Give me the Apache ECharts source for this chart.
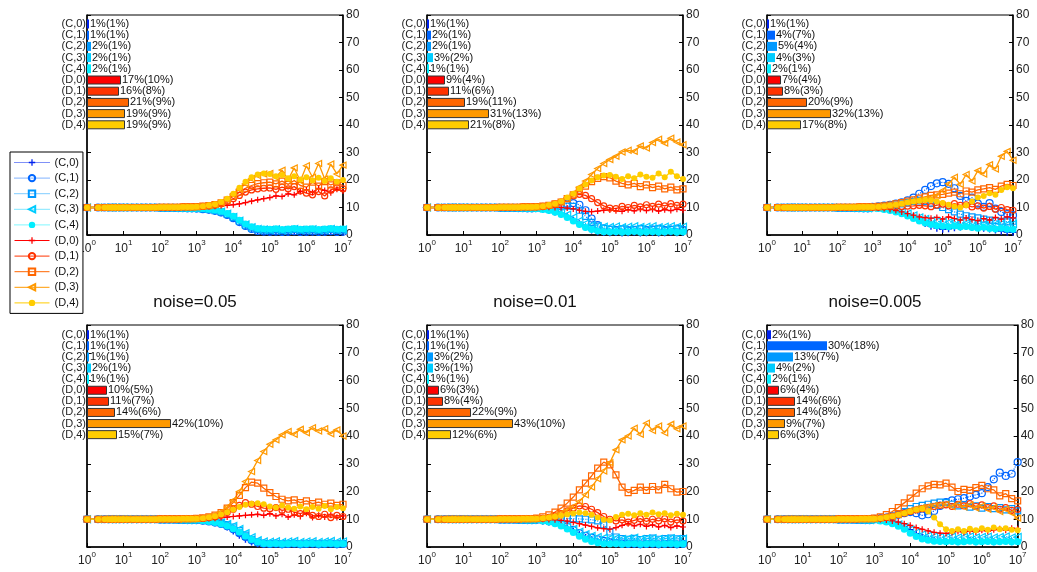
<!DOCTYPE html>
<html><head><meta charset="utf-8">
<script src="https://cdn.jsdelivr.net/npm/echarts@6/dist/echarts.min.js"></script>
<style>html,body{margin:0;padding:0;background:#fff}#c{width:1037px;height:572px}</style>
</head><body><div id="c"></div>
<script>
// ---------- DATA ----------
const NAMES = ['(C,0)','(C,1)','(C,2)','(C,3)','(C,4)','(D,0)','(D,1)','(D,2)','(D,3)','(D,4)'];
const TITLES = ['noise=0.05','noise=0.01','noise=0.005'];
const XS = [1,2,3,4,5,6,8,10,13,18,24,32,42,56,75,100,133,178,237,316,422,562,750,
  1000,1468,2154,3162,4642,6813,10000,14678,21544,31623,46416,68129,100000,146780,215440,316230,464160,681290,
  1000000,1467800,2154400,3162300,4641600,6812900,10000000];
const EARLY_C = [10,10,10,10,10,10,10,10,10,10,10,10,10,10,10,9.9,9.9,9.9,9.9,9.8,9.8,9.7,9.7];
const EARLY_D = [10,10,10,10,10,10,10,10,10,10,10,10,10,10,10,10.1,10.1,10.1,10.1,10.1,10.2,10.2,10.2];

// values from x=1000 to x=1e7 (25 points)
const P1_LINES = [
 [9.6,9.4,9.1,8.7,8.1,7.2,6.0,4.6,3.2,2.1,1.4,1.1,1.0,1.1,0.9,1.0,1.2,0.9,1.0,1.1,0.9,1.0,1.2,0.9,1.0],
 [9.6,9.4,9.2,8.8,8.2,7.3,6.1,4.7,3.3,2.2,1.5,1.3,1.2,1.3,1.1,1.2,1.4,1.1,1.2,1.3,1.1,1.2,1.4,1.1,1.2],
 [9.7,9.5,9.3,8.9,8.4,7.5,6.4,5.0,3.6,2.6,2.0,1.8,1.7,1.9,1.6,1.8,2.0,1.7,1.8,1.9,1.6,1.8,2.0,1.7,1.8],
 [9.7,9.5,9.3,9.0,8.5,7.7,6.6,5.2,3.8,2.8,2.2,2.0,1.9,2.1,1.8,2.0,2.2,1.9,2.0,2.1,1.8,2.0,2.2,1.9,2.0],
 [9.7,9.6,9.4,9.1,8.6,7.8,6.8,5.4,4.0,3.0,2.4,2.2,2.1,2.3,2.0,2.2,2.4,2.1,2.2,2.3,2.0,2.2,2.4,2.1,2.2],
 [10.2,10.3,10.4,10.5,10.6,10.8,11.0,11.3,11.8,12.3,12.8,13.2,13.6,14.2,14.0,15.0,14.6,15.8,16.4,15.5,17.0,16.2,15.4,16.6,16.0],
 [10.3,10.4,10.6,10.9,11.4,12.2,13.2,14.4,15.6,16.4,16.8,17.0,17.1,16.6,17.4,16.8,17.6,16.0,15.2,14.6,15.8,14.2,16.4,17.2,16.8],
 [10.3,10.5,10.7,11.1,11.7,12.7,14.0,15.6,17.0,18.0,18.7,19.0,19.2,18.6,19.6,18.4,19.8,18.0,17.4,19.2,17.8,19.4,18.2,19.0,18.0],
 [10.3,10.5,10.8,11.2,11.9,13.0,14.6,16.6,18.6,20.4,21.6,22.2,22.4,21.0,23.6,20.2,24.4,19.6,25.2,21.0,26.0,20.4,25.8,22.2,25.4],
 [10.3,10.5,10.8,11.2,12.0,13.2,15.0,17.2,19.4,21.0,22.0,22.4,22.2,21.4,21.8,20.6,21.4,20.2,21.0,19.8,20.8,19.6,20.6,19.4,20.0]
];
const P2_LINES = [
 [9.6,9.3,8.9,8.4,7.6,6.6,5.4,4.0,2.7,1.8,1.2,0.9,0.8,0.9,0.7,0.8,1.0,0.7,0.8,0.9,0.7,0.8,1.0,0.8,0.9],
 [10.0,10.1,10.3,10.6,11.0,11.4,11.6,11.0,9.0,6.0,3.6,2.4,2.0,1.8,2.1,1.7,1.9,2.2,1.8,2.0,2.2,1.8,2.0,2.3,1.9],
 [9.9,9.9,10.0,10.1,10.3,10.5,10.4,9.0,6.8,4.6,3.2,2.4,2.1,1.9,2.2,1.8,2.0,2.3,1.9,2.1,2.2,1.8,2.0,2.2,1.9],
 [9.7,9.5,9.2,8.8,8.2,7.4,6.4,5.2,4.2,3.6,3.2,3.0,2.9,3.1,2.8,3.0,3.2,2.9,3.0,3.2,2.8,3.0,3.2,2.9,3.0],
 [9.6,9.3,8.9,8.3,7.5,6.4,5.1,3.8,2.7,2.0,1.5,1.2,1.1,1.2,1.0,1.1,1.3,1.0,1.1,1.2,1.0,1.1,1.3,1.0,1.1],
 [10.1,10.1,10.1,10.0,10.0,9.8,9.5,9.0,8.6,8.5,8.7,9.0,9.1,8.8,8.6,9.2,8.8,9.4,8.9,9.3,8.7,9.2,8.9,9.4,9.0],
 [10.2,10.4,10.7,11.2,12.0,13.2,14.2,14.8,14.4,13.2,11.8,10.6,9.8,9.6,10.4,10.0,10.8,10.2,11.0,10.4,11.2,10.6,11.4,10.8,11.2],
 [10.3,10.5,10.8,11.3,12.0,13.2,14.6,16.2,17.8,19.4,20.6,21.2,20.8,19.6,18.8,18.2,18.8,17.6,18.2,17.2,17.8,16.8,17.4,16.4,16.8],
 [10.3,10.5,10.9,11.4,12.2,13.6,15.2,17.4,19.6,22.0,24.2,26.0,27.4,28.6,30.2,30.8,30.4,32.4,31.6,33.6,34.8,33.4,35.2,33.8,32.8],
 [10.3,10.5,10.9,11.4,12.2,13.6,15.0,16.8,18.4,19.8,21.0,21.6,21.8,21.2,20.4,21.4,20.6,22.0,21.2,20.8,22.4,21.0,23.0,21.4,20.4]
];
const P3_LINES = [
 [9.8,9.6,9.4,9.1,8.7,8.1,7.4,6.4,5.3,4.2,3.2,2.5,2.1,2.3,2.6,2.9,3.1,2.7,3.0,2.5,2.2,1.8,1.4,1.1,1.0],
 [10.2,10.4,10.7,11.0,11.4,11.9,12.6,13.6,15.0,16.4,17.8,18.8,19.2,18.6,17.0,14.2,12.4,13.6,11.4,10.2,11.6,9.6,8.4,7.6,7.2],
 [10.1,10.2,10.4,10.6,10.9,11.3,11.8,12.2,12.4,12.2,11.6,10.8,10.0,9.2,8.4,7.6,7.0,6.6,6.2,5.8,5.4,5.2,5.0,4.8,5.0],
 [9.9,9.8,9.6,9.3,8.9,8.4,7.8,7.1,6.4,5.8,5.3,5.0,4.8,4.6,4.9,4.5,4.3,4.6,4.2,4.0,4.3,3.9,4.1,3.8,4.0],
 [9.8,9.6,9.3,8.9,8.4,7.7,6.9,6.0,5.1,4.4,3.8,3.4,3.2,3.0,3.3,2.9,3.1,2.7,2.5,2.8,2.4,2.2,2.5,2.1,2.0],
 [9.9,9.8,9.6,9.3,8.9,8.4,7.8,7.2,6.6,6.3,6.1,6.4,5.8,6.6,6.0,5.4,6.2,5.6,5.2,6.0,5.4,6.4,5.8,6.6,6.2],
 [10.1,10.1,10.2,10.2,10.3,10.4,10.5,10.6,10.8,10.6,10.3,10.9,11.2,10.6,11.4,10.8,11.0,10.2,10.6,9.8,10.4,9.4,10.0,9.2,9.0],
 [10.2,10.4,10.6,10.9,11.3,11.8,12.3,12.8,13.4,13.9,14.4,14.6,14.8,15.2,15.6,15.0,16.0,15.6,16.4,16.8,17.2,16.6,17.8,18.4,18.0],
 [10.2,10.3,10.5,10.8,11.1,11.5,12.0,12.4,12.8,13.2,13.6,14.4,16.2,18.6,21.0,18.4,22.0,19.6,23.4,22.2,25.6,24.0,28.6,30.4,27.2],
 [10.2,10.3,10.5,10.7,11.0,11.4,11.8,12.2,12.5,12.7,12.6,12.2,11.6,11.0,10.4,10.0,10.8,12.2,13.6,14.2,15.2,14.6,16.4,17.4,17.0]
];
const P4_LINES = [
 [9.7,9.5,9.2,8.8,8.2,7.2,5.8,4.2,2.8,1.8,1.2,1.0,0.9,1.0,0.8,0.9,1.1,0.8,0.9,1.0,0.8,0.9,1.0,0.8,0.9],
 [9.7,9.5,9.2,8.8,8.3,7.5,6.4,5.0,3.6,2.4,1.6,1.2,1.1,1.2,1.0,1.1,1.2,1.0,1.1,1.2,1.0,1.1,1.2,1.0,1.1],
 [9.8,9.6,9.4,9.1,8.7,8.1,7.2,5.9,4.3,2.8,1.8,1.3,1.2,1.3,1.1,1.2,1.3,1.1,1.2,1.3,1.1,1.2,1.3,1.1,1.2],
 [9.8,9.7,9.5,9.2,8.8,8.3,7.6,6.5,5.0,3.5,2.4,2.0,1.9,2.1,1.8,2.0,2.2,1.8,2.0,2.1,1.8,2.0,2.2,1.9,2.0],
 [9.7,9.5,9.2,8.8,8.3,7.6,6.6,5.3,3.9,2.7,1.8,1.3,1.2,1.3,1.1,1.2,1.3,1.1,1.2,1.3,1.1,1.2,1.3,1.1,1.2],
 [10.1,10.2,10.3,10.4,10.6,10.8,11.0,11.2,11.4,11.6,11.8,11.4,12.0,11.2,11.8,10.8,11.6,11.0,12.2,10.6,11.4,10.8,11.8,10.6,11.2],
 [10.2,10.3,10.6,10.9,11.5,12.4,13.6,15.0,16.0,15.4,14.6,14.0,13.8,14.2,13.2,13.6,12.6,12.0,12.8,11.4,11.0,11.8,10.6,11.4,11.0],
 [10.3,10.5,10.9,11.5,12.4,14.0,16.0,18.6,21.4,23.4,23.0,21.2,19.6,18.2,17.2,16.6,17.0,16.0,16.6,15.6,16.2,15.4,15.8,15.0,15.4],
 [10.3,10.5,10.9,11.6,12.6,14.4,16.8,20.0,23.6,27.2,31.2,34.4,37.0,38.6,40.4,41.6,40.6,42.4,41.2,43.0,41.8,42.6,40.8,42.2,40.0],
 [10.2,10.4,10.7,11.1,11.7,12.5,13.5,14.4,15.2,15.6,15.8,15.4,14.6,14.2,15.0,14.2,13.8,14.6,13.6,14.4,13.8,14.8,13.6,14.4,14.0]
];
const P5_LINES = [
 [9.7,9.4,9.0,8.5,7.8,6.8,5.6,4.4,3.4,2.6,2.0,1.6,1.3,1.1,1.0,0.9,1.0,0.8,0.9,1.0,0.8,0.9,1.0,0.8,0.9],
 [9.8,9.6,9.3,8.9,8.3,7.4,6.2,5.0,4.0,3.4,2.8,2.2,1.7,1.4,1.2,1.1,1.2,1.0,1.1,1.2,1.0,1.1,1.2,1.0,1.1],
 [10.0,10.0,10.1,10.1,10.2,10.2,10.2,10.1,10.0,9.8,9.4,8.0,5.4,3.6,3.0,2.8,3.1,2.7,3.0,3.2,2.8,3.0,3.2,2.9,3.0],
 [9.8,9.6,9.3,8.9,8.3,7.5,6.5,5.5,4.6,4.0,3.6,3.3,3.1,3.2,2.9,3.1,3.3,2.9,3.1,3.2,2.9,3.0,3.2,2.9,3.0],
 [9.7,9.4,9.0,8.4,7.6,6.5,5.2,3.9,2.8,2.0,1.5,1.2,1.1,1.2,1.0,1.1,1.2,1.0,1.1,1.2,1.0,1.1,1.2,1.0,1.1],
 [10.0,10.0,9.9,9.8,9.6,9.3,8.9,8.4,7.9,7.4,6.9,6.6,6.4,7.0,7.8,8.4,7.6,8.2,7.4,8.0,7.2,7.8,7.0,7.6,7.2],
 [10.2,10.4,10.7,11.2,12.0,13.0,14.0,14.8,14.6,13.6,12.4,11.0,10.0,9.4,9.8,9.0,9.6,10.2,9.2,10.0,9.4,10.2,9.0,9.8,9.4],
 [10.4,10.9,11.6,12.6,14.0,15.8,18.0,20.6,23.0,25.6,28.4,30.6,29.6,26.0,21.6,19.6,20.4,21.6,20.4,21.8,20.6,22.6,21.0,19.8,20.0],
 [10.3,10.5,10.9,11.4,12.2,13.3,14.6,16.4,18.8,21.6,24.6,27.4,30.4,35.0,38.6,40.0,42.8,40.6,44.6,42.0,43.6,41.2,44.2,42.6,43.6],
 [10.2,10.4,10.6,10.9,11.3,11.7,12.1,12.4,12.2,11.6,10.6,9.8,9.6,10.8,11.6,12.0,11.4,12.2,11.6,12.4,11.8,12.2,11.4,12.0,11.6]
];
const P6_LINES = [
 [9.8,9.6,9.3,8.9,8.3,7.4,6.2,4.8,3.6,2.8,2.4,2.2,2.0,2.2,1.9,2.1,2.3,1.9,2.1,2.2,1.9,2.0,2.2,1.9,2.0],
 [10.1,10.3,10.6,11.0,11.6,12.2,12.6,12.2,11.4,11.8,13.0,14.8,16.2,16.8,17.2,17.6,18.2,18.8,19.4,21.6,24.4,26.8,25.6,26.4,30.6],
 [10.1,10.3,10.6,11.1,11.8,12.8,13.8,14.6,15.0,15.4,15.8,16.2,16.0,15.4,14.8,15.2,14.4,14.8,14.0,14.6,13.8,14.2,13.4,13.8,13.0],
 [9.8,9.6,9.3,8.8,8.1,7.2,6.2,5.2,4.5,4.1,3.8,3.6,3.5,3.7,3.4,3.6,3.8,3.4,3.6,3.7,3.4,3.6,3.8,3.4,3.6],
 [9.7,9.4,9.0,8.4,7.5,6.4,5.0,3.8,2.9,2.4,2.1,2.0,1.9,2.0,1.8,1.9,2.1,1.8,1.9,2.0,1.8,1.9,2.0,1.8,1.9],
 [10.0,9.9,9.7,9.4,9.0,8.4,7.8,7.0,6.4,5.8,5.3,5.0,4.9,5.2,5.6,5.2,5.8,5.4,6.0,5.6,6.2,6.6,6.0,6.8,6.6],
 [10.2,10.4,10.7,11.1,11.6,12.2,12.8,13.4,13.8,14.2,14.6,15.0,15.2,14.6,15.4,14.8,15.6,14.6,15.2,14.2,14.8,13.6,14.2,13.2,13.6],
 [10.4,10.9,11.7,12.8,14.2,15.9,17.6,19.4,21.0,22.0,22.6,22.4,23.0,21.6,20.0,20.8,20.4,21.4,22.2,21.0,20.6,18.4,19.2,17.4,16.6],
 [10.2,10.4,10.7,11.1,11.7,12.4,13.2,13.8,14.2,14.6,15.0,15.2,15.4,14.6,15.6,14.4,15.2,14.0,14.8,13.6,14.2,12.8,13.6,12.2,10.4],
 [10.2,10.4,10.7,11.1,11.6,12.2,12.8,13.4,13.8,12.8,10.6,8.2,6.4,5.8,6.4,5.8,6.6,6.0,6.8,6.2,7.0,6.4,6.8,6.2,6.0]
];

const P1_PCT = [1,1,2,2,2,17,16,21,19,19]; const P1_SD = [1,1,1,1,1,10,8,9,9,9];
const P2_PCT = [1,2,2,3,1,9,11,19,31,21];  const P2_SD = [1,1,1,2,1,4,6,11,13,8];
const P3_PCT = [1,4,5,4,2,7,8,20,32,17];   const P3_SD = [1,7,4,3,1,4,3,9,13,8];
const P4_PCT = [1,1,1,2,1,10,11,14,42,15]; const P4_SD = [1,1,1,1,1,5,7,6,10,7];
const P5_PCT = [1,1,3,3,1,6,8,22,43,12];   const P5_SD = [1,1,2,1,1,3,4,9,10,6];
const P6_PCT = [2,30,13,4,2,6,14,14,9,6];  const P6_SD = [1,18,7,2,1,4,6,8,7,3];

// ---------- STYLE / LAYOUT ----------
const FONT = 'Liberation Sans, Arial, Helvetica, sans-serif';
const COLORS = ['#0022ee','#0066ff','#0099ff','#00ccff','#00eeff','#ff0000','#ff3300','#ff6600','#ff9900','#ffcc00'];
const PLUS = 'path://M4,0H6V4H10V6H6V10H4V6H0V4H4Z';
const SYMS = [PLUS,'circle','rect','triangle','circle',PLUS,'circle','rect','triangle','circle'];
const HOLLOW = [false,true,true,true,false,false,true,true,true,false];
const ROT = [0,0,0,90,0,0,0,0,90,0];
const SIZE = [7,7,6,7,7,6,6,6,6,6];
const PANELS = [
  {lines:P1_LINES,pct:P1_PCT,sd:P1_SD,g:{left:87,top:15,width:256,height:220},bt:18.4,bh:112},
  {lines:P2_LINES,pct:P2_PCT,sd:P2_SD,g:{left:427,top:15,width:256,height:220},bt:18.4,bh:112},
  {lines:P3_LINES,pct:P3_PCT,sd:P3_SD,g:{left:767,top:15,width:246,height:220},bt:18.4,bh:112},
  {lines:P4_LINES,pct:P4_PCT,sd:P4_SD,g:{left:87,top:325,width:256,height:222},bt:329.2,bh:111},
  {lines:P5_LINES,pct:P5_PCT,sd:P5_SD,g:{left:427,top:325,width:256,height:222},bt:329.2,bh:111},
  {lines:P6_LINES,pct:P6_PCT,sd:P6_SD,g:{left:767,top:325,width:256,height:222},bt:329.2,bh:111}
];
const TITLE_POS = [[195,302],[535,302],[875,302]];

const grid=[], xAxis=[], yAxis=[], series=[];
PANELS.forEach((p,i)=>{
  grid.push(Object.assign({show:true,borderColor:'#000',borderWidth:1,containLabel:false},p.g));
  grid.push({left:p.g.left,top:p.bt,width:200,height:p.bh,show:false});
  xAxis.push({type:'log',logBase:10,min:1,max:1e7,gridIndex:2*i,splitNumber:7,
    axisLine:{show:true,lineStyle:{color:'#000',width:1.5}},
    axisTick:{inside:true,length:4,lineStyle:{color:'#000'}},
    splitLine:{show:false},
    axisLabel:{margin:4,color:'#222',fontFamily:FONT,
      formatter:v=>'{b|10}{s|'+Math.round(Math.log10(v))+'}',
      rich:{b:{fontSize:12,fontFamily:FONT,color:'#222',verticalAlign:'bottom',lineHeight:16},
            s:{fontSize:8,fontFamily:FONT,color:'#222',verticalAlign:'top',lineHeight:16}}}});
  xAxis.push({type:'value',min:0,max:100,gridIndex:2*i+1,show:false});
  yAxis.push({type:'value',min:0,max:80,interval:10,gridIndex:2*i,position:'right',
    axisLine:{show:true,lineStyle:{color:'#000',width:1.5}},
    axisTick:{show:true,inside:true,length:4,lineStyle:{color:'#000'}},
    splitLine:{show:false},
    axisLabel:{margin:3,fontSize:12,color:'#222',fontFamily:FONT}});
  yAxis.push({type:'value',min:0,max:80,interval:10,gridIndex:2*i,position:'left',
    axisLine:{show:true,lineStyle:{color:'#000',width:1.5}},
    axisTick:{show:true,inside:true,length:4,lineStyle:{color:'#000'}},
    splitLine:{show:false},axisLabel:{show:false}});
  yAxis.push({type:'category',data:NAMES,inverse:true,gridIndex:2*i+1,
    axisLine:{show:false},axisTick:{show:false},
    axisLabel:{interval:0,margin:1,fontSize:11,color:'#222',fontFamily:FONT}});
  p.lines.forEach((vals,k)=>{
    const full = (k<5?EARLY_C:EARLY_D).concat(vals);
    series.push({type:'line',name:NAMES[k],xAxisIndex:2*i,yAxisIndex:3*i,
      data:XS.map((x,j)=>[x,full[j]]),
      symbol:SYMS[k],symbolRotate:ROT[k],symbolSize:SIZE[k],showSymbol:true,
      lineStyle:{color:COLORS[k],width:k<5?1.2:1.3,type:k<5?'dotted':'solid'},
      itemStyle:HOLLOW[k]?{color:'rgba(255,255,255,0)',borderColor:COLORS[k],borderWidth:1.2}
                         :{color:COLORS[k],borderWidth:0},
      emphasis:{disabled:true},silent:true,z:2});
  });
  series.push({type:'bar',name:'bars'+i,xAxisIndex:2*i+1,yAxisIndex:3*i+2,barWidth:9,z:5,
    data:p.pct.map((v,k)=>({value:v,itemStyle:{color:COLORS[k],borderColor:k<5?COLORS[k]:'#333',borderWidth:k<5?0:1}})),
    label:{show:true,position:'right',distance:1,fontSize:11,color:'#111',fontFamily:FONT,
      formatter:q=>q.value+'%('+p.sd[q.dataIndex]+'%)'},
    silent:true});
});

const graphic = TITLES.map((t,i)=>({type:'text',x:TITLE_POS[i][0],y:TITLE_POS[i][1],
  style:{text:t,fill:'#111',font:'17px '+FONT,align:'center',verticalAlign:'middle',textAlign:'center',textVerticalAlign:'middle'}}));

const chart = echarts.init(document.getElementById('c'),null,{renderer:'canvas'});
chart.setOption({
  animation:false,
  textStyle:{fontFamily:FONT},
  legend:{data:NAMES,orient:'vertical',left:10,top:152,itemWidth:35,itemHeight:8,itemGap:4.6,
    padding:[5,4,5,4],borderColor:'#000',borderWidth:1,backgroundColor:'#fff',selectedMode:false,
    lineStyle:{width:1},
    textStyle:{fontSize:11,color:'#111',fontFamily:FONT}},
  grid,xAxis,yAxis,series,graphic
});
</script></body></html>
